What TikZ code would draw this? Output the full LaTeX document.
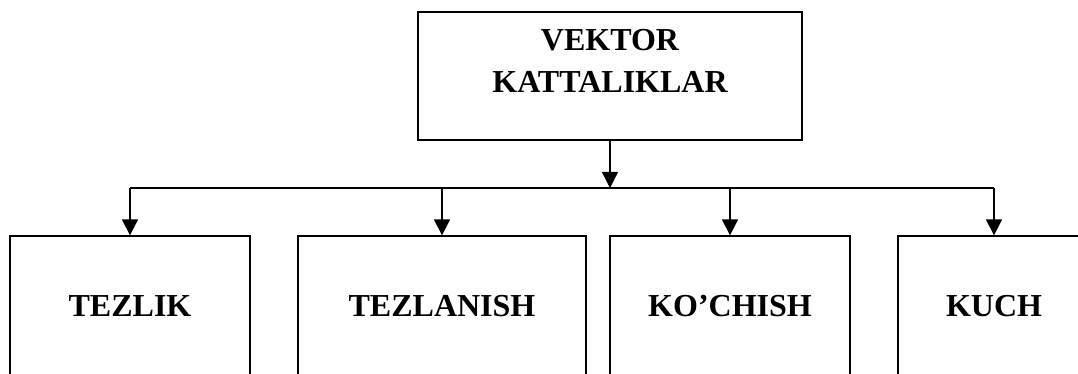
\documentclass[tikz,border=0pt]{standalone}
\usepackage{fontspec}
\setmainfont{Liberation Serif}
\usetikzlibrary{arrows.meta}
\tikzset{
  box/.style={draw, line width=1.3pt, rectangle, inner sep=0pt,
    font=\fontsize{32}{42}\selectfont\bfseries, align=center},
  link/.style={line width=1.3pt},
  feed/.style={line width=1.3pt, -{Triangle[width=16pt,length=16pt]}}
}
\begin{document}
\begin{tikzpicture}[x=1pt,y=-1pt]
  \useasboundingbox (0,0) rectangle (1078,374);
  \clip (0,0) rectangle (1078,374);
  \fill[white] (0,0) rectangle (1078,374);

  % root category
  \node[box, minimum width=384pt, minimum height=128pt] (root) at (610,76)
    {VEKTOR\\KATTALIKLAR\\[-12pt]\mbox{}};

  % four kinds of vector quantities
  \node[box, minimum width=240pt, minimum height=140pt] (tezlik) at (130,306) {TEZLIK};
  \node[box, minimum width=288pt, minimum height=140pt] (tezlanish) at (442,306) {TEZLANISH};
  \node[box, minimum width=240pt, minimum height=140pt] (kochish) at (730,306) {KO’CHISH};
  \node[box, minimum width=192pt, minimum height=140pt] (kuch) at (994,306) {KUCH};

  % distribution bus
  \coordinate (bus) at (610,188);
  \coordinate (busL) at (tezlik.north |- bus);
  \coordinate (busR) at (kuch.north |- bus);
  \draw[feed] (root.south) -- (bus);
  \draw[link] (busL) -- (busR);
  \draw[feed] (busL) -- (tezlik.north);
  \draw[feed] (tezlanish.north |- bus) -- (tezlanish.north);
  \draw[feed] (kochish.north |- bus) -- (kochish.north);
  \draw[feed] (busR) -- (kuch.north);
\end{tikzpicture}
\end{document}
